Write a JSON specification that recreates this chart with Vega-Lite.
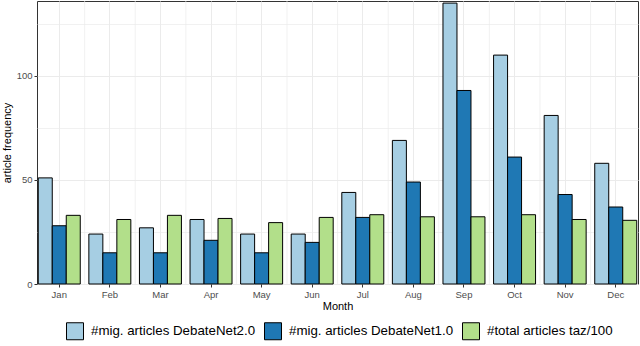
{
  "$schema": "https://vega.github.io/schema/vega-lite/v6.json",
  "width": 601,
  "height": 283,
  "autosize": {"type": "none"},
  "padding": {"left": 37, "top": 1, "right": 2, "bottom": 62},
  "background": "white",
  "config": {
    "font": "Liberation Sans",
    "view": {"stroke": "#333333", "strokeWidth": 1}
  },
  "datasets": {
    "bars": [
      {"Month": "Jan", "Series": "#mig. articles DebateNet2.0", "Value": 51},
      {"Month": "Jan", "Series": "#mig. articles DebateNet1.0", "Value": 28},
      {"Month": "Jan", "Series": "#total articles taz/100", "Value": 33},
      {"Month": "Feb", "Series": "#mig. articles DebateNet2.0", "Value": 24},
      {"Month": "Feb", "Series": "#mig. articles DebateNet1.0", "Value": 15},
      {"Month": "Feb", "Series": "#total articles taz/100", "Value": 31},
      {"Month": "Mar", "Series": "#mig. articles DebateNet2.0", "Value": 27},
      {"Month": "Mar", "Series": "#mig. articles DebateNet1.0", "Value": 15},
      {"Month": "Mar", "Series": "#total articles taz/100", "Value": 33},
      {"Month": "Apr", "Series": "#mig. articles DebateNet2.0", "Value": 31},
      {"Month": "Apr", "Series": "#mig. articles DebateNet1.0", "Value": 21},
      {"Month": "Apr", "Series": "#total articles taz/100", "Value": 31.5},
      {"Month": "May", "Series": "#mig. articles DebateNet2.0", "Value": 24},
      {"Month": "May", "Series": "#mig. articles DebateNet1.0", "Value": 15},
      {"Month": "May", "Series": "#total articles taz/100", "Value": 29.5},
      {"Month": "Jun", "Series": "#mig. articles DebateNet2.0", "Value": 24},
      {"Month": "Jun", "Series": "#mig. articles DebateNet1.0", "Value": 20},
      {"Month": "Jun", "Series": "#total articles taz/100", "Value": 32},
      {"Month": "Jul", "Series": "#mig. articles DebateNet2.0", "Value": 44},
      {"Month": "Jul", "Series": "#mig. articles DebateNet1.0", "Value": 32},
      {"Month": "Jul", "Series": "#total articles taz/100", "Value": 33.3},
      {"Month": "Aug", "Series": "#mig. articles DebateNet2.0", "Value": 69},
      {"Month": "Aug", "Series": "#mig. articles DebateNet1.0", "Value": 49},
      {"Month": "Aug", "Series": "#total articles taz/100", "Value": 32.3},
      {"Month": "Sep", "Series": "#mig. articles DebateNet2.0", "Value": 135},
      {"Month": "Sep", "Series": "#mig. articles DebateNet1.0", "Value": 93},
      {"Month": "Sep", "Series": "#total articles taz/100", "Value": 32.3},
      {"Month": "Oct", "Series": "#mig. articles DebateNet2.0", "Value": 110},
      {"Month": "Oct", "Series": "#mig. articles DebateNet1.0", "Value": 61},
      {"Month": "Oct", "Series": "#total articles taz/100", "Value": 33.3},
      {"Month": "Nov", "Series": "#mig. articles DebateNet2.0", "Value": 81},
      {"Month": "Nov", "Series": "#mig. articles DebateNet1.0", "Value": 43},
      {"Month": "Nov", "Series": "#total articles taz/100", "Value": 31},
      {"Month": "Dec", "Series": "#mig. articles DebateNet2.0", "Value": 58},
      {"Month": "Dec", "Series": "#mig. articles DebateNet1.0", "Value": 37},
      {"Month": "Dec", "Series": "#total articles taz/100", "Value": 30.6}
    ],
    "gaps": [
      {"Month": "Feb"}, {"Month": "Mar"}, {"Month": "Apr"}, {"Month": "May"},
      {"Month": "Jun"}, {"Month": "Jul"}, {"Month": "Aug"}, {"Month": "Sep"},
      {"Month": "Oct"}, {"Month": "Nov"}, {"Month": "Dec"}
    ]
  },
  "resolve": {"axis": {"x": "independent"}},
  "layer": [
    {
      "data": {"name": "gaps"},
      "mark": {"type": "rule", "color": "#ebebeb", "strokeWidth": 0.7},
      "encoding": {
        "x": {
          "field": "Month",
          "type": "nominal",
          "sort": ["Jan","Feb","Mar","Apr","May","Jun","Jul","Aug","Sep","Oct","Nov","Dec"],
          "bandPosition": -0.1,
          "axis": null
        }
      }
    },
    {
      "data": {"name": "bars"},
      "mark": {"type": "bar", "stroke": "black", "strokeWidth": 1},
      "encoding": {
        "x": {
          "field": "Month",
          "type": "nominal",
          "sort": ["Jan","Feb","Mar","Apr","May","Jun","Jul","Aug","Sep","Oct","Nov","Dec"],
          "scale": {"paddingInner": 0.17, "paddingOuter": 0.025},
          "axis": {
            "title": "Month",
            "titleFontSize": 11,
            "titleFontWeight": "normal",
            "titleColor": "black",
            "titlePadding": 2,
            "labelAngle": 0,
            "labelAlign": "center",
            "labelFontSize": 9.5,
            "labelColor": "#4d4d4d",
            "labelPadding": 2,
            "tickSize": 3,
            "tickColor": "#333333",
            "domain": false,
            "grid": true,
            "gridColor": "#ebebeb",
            "bandPosition": 0.5
          }
        },
        "xOffset": {
          "field": "Series",
          "type": "nominal",
          "sort": ["#mig. articles DebateNet2.0", "#mig. articles DebateNet1.0", "#total articles taz/100"]
        },
        "y": {
          "field": "Value",
          "type": "quantitative",
          "scale": {"domain": [0, 136], "nice": false},
          "axis": {
            "title": "article frequency",
            "titleFontSize": 11,
            "titleFontWeight": "normal",
            "titleColor": "black",
            "titlePadding": 4,
            "values": [0, 25, 50, 75, 100, 125],
            "labelExpr": "datum.value % 50 === 0 ? datum.label : ''",
            "labelFontSize": 9.5,
            "labelColor": "#4d4d4d",
            "labelPadding": 2,
            "tickSize": 3,
            "tickColor": "#333333",
            "tickOpacity": {"condition": {"test": "datum.value % 50 === 0", "value": 1}, "value": 0},
            "domain": false,
            "grid": true,
            "gridColor": "#ebebeb",
            "gridWidth": {"condition": {"test": "datum.value % 50 === 0", "value": 1}, "value": 0.7}
          }
        },
        "color": {
          "field": "Series",
          "type": "nominal",
          "scale": {
            "domain": ["#mig. articles DebateNet2.0", "#mig. articles DebateNet1.0", "#total articles taz/100"],
            "range": ["#a6cee3", "#1f78b4", "#b2df8a"]
          },
          "legend": {
            "orient": "none",
            "legendX": 29,
            "legendY": 321,
            "direction": "horizontal",
            "title": null,
            "padding": 0,
            "symbolType": "square",
            "symbolSize": 289,
            "symbolStrokeColor": "black",
            "symbolStrokeWidth": 1,
            "symbolOpacity": 1,
            "labelFontSize": 13.3,
            "labelLimit": 400,
            "labelColor": "black",
            "labelOffset": 7,
            "columnPadding": 6
          }
        }
      }
    }
  ]
}
